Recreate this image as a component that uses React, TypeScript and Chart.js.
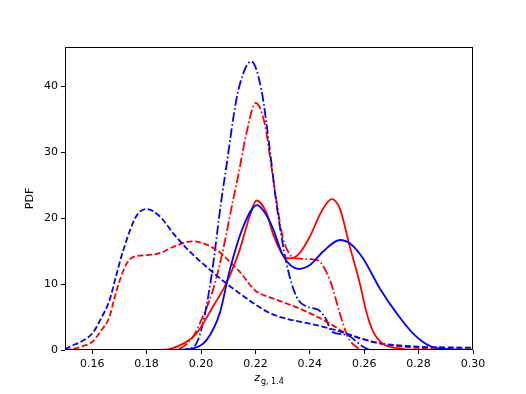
import React, { useEffect, useRef } from "react";
import { Chart, registerables } from "chart.js";
Chart.register(...registerables);

const xTickValues = [0.16, 0.18, 0.2, 0.22, 0.24, 0.26, 0.28, 0.3];
const yTickValues = [0, 10, 20, 30, 40];
const xLabelMain = "z";
const xLabelSub = "g, 1.4";
const yLabel = "PDF";

// blue solid
const blueSolidX = [0.150, 0.190, 0.197, 0.202, 0.2069, 0.2106, 0.2155, 0.2206, 0.2240, 0.2265, 0.2302, 0.2360, 0.2400, 0.2450, 0.2511, 0.2550, 0.2596, 0.2658, 0.2719, 0.2780, 0.2842, 0.2900, 0.300];
const blueSolidY = [0, 0, 0.25, 1.5, 5.6, 12.2, 18.7, 22.0, 20.5, 18.4, 14.3, 12.3, 12.9, 15.0, 16.7, 16.1, 13.9, 9.3, 5.6, 2.5, 0.6, 0.15, 0.05];

// red solid
const redSolidX = [0.150, 0.185, 0.1897, 0.1983, 0.2044, 0.2093, 0.2142, 0.2179, 0.2204, 0.2241, 0.2265, 0.2302, 0.2326, 0.2360, 0.2400, 0.2440, 0.2480, 0.2510, 0.2547, 0.2584, 0.2609, 0.2633, 0.2670, 0.2720, 0.2800, 0.300];
const redSolidY = [0, 0, 0.3, 2.5, 6.6, 10.1, 15.2, 20.3, 22.7, 20.8, 17.6, 14.4, 13.9, 14.6, 17.2, 20.8, 22.9, 21.5, 15.7, 10.1, 5.6, 2.8, 0.9, 0.3, 0, 0];

// blue dashed
const blueDashedX = [0.150, 0.1517, 0.156, 0.1602, 0.163, 0.1664, 0.1685, 0.1713, 0.1762, 0.1799, 0.1848, 0.190, 0.195, 0.2032, 0.2090, 0.2142, 0.2200, 0.2253, 0.2300, 0.2400, 0.2470, 0.2535, 0.2600, 0.2658, 0.2700, 0.2800, 0.2900, 0.300];
const blueDashedY = [0.1, 0.5, 1.3, 2.6, 4.6, 7.6, 10.8, 15.0, 20.3, 21.4, 20.3, 17.6, 15.3, 12.2, 10.2, 8.6, 6.9, 5.6, 4.9, 4.0, 3.3, 2.5, 1.6, 1.0, 0.8, 0.5, 0.4, 0.35];

// red dashed
const redDashedX = [0.150, 0.1517, 0.156, 0.1602, 0.163, 0.1664, 0.168, 0.170, 0.1725, 0.175, 0.1799, 0.1848, 0.190, 0.197, 0.2057, 0.2106, 0.2142, 0.220, 0.2253, 0.230, 0.240, 0.2474, 0.2535, 0.2600, 0.2658, 0.2700, 0.2800, 0.2900, 0.300];
const redDashedY = [0, 0.1, 0.5, 1.3, 2.8, 5.1, 7.6, 10.4, 13.0, 14.1, 14.4, 14.7, 15.7, 16.5, 15.2, 13.4, 11.9, 9.0, 8.0, 7.3, 5.6, 4.0, 2.5, 1.6, 1.0, 0.7, 0.3, 0.15, 0.1];

// blue dash-dot
const blueDashDotX = [0.150, 0.190, 0.1958, 0.1983, 0.2007, 0.2038, 0.2075, 0.2093, 0.2130, 0.2160, 0.2185, 0.2222, 0.2253, 0.2277, 0.2314, 0.2351, 0.2388, 0.2431, 0.2461, 0.2480, 0.2535, 0.2596, 0.2630, 0.300];
const blueDashDotY = [0, 0, 0.2, 1.0, 4.0, 11.1, 22.8, 27.8, 38.0, 42.5, 43.8, 39.5, 30.4, 22.3, 13.2, 8.1, 6.6, 6.1, 4.6, 2.8, 2.3, 0.5, 0, 0];

// red dash-dot
const redDashDotX = [0.150, 0.188, 0.1934, 0.197, 0.2007, 0.2044, 0.2081, 0.2118, 0.2136, 0.2167, 0.2201, 0.2234, 0.2259, 0.2277, 0.2300, 0.2325, 0.235, 0.240, 0.243, 0.2475, 0.251, 0.254, 0.257, 0.260, 0.300];
const redDashDotY = [0, 0, 0.5, 2.0, 5.1, 9.1, 15.2, 22.8, 26.3, 32.9, 37.5, 34.4, 27.8, 22.8, 17.2, 14.6, 13.9, 13.8, 13.6, 10.5, 5.6, 2.0, 0.5, 0, 0];

const toPoints = (xs: number[], ys: number[]) => xs.map((x, i) => ({ x, y: ys[i] }));

const BLUE = "#0000ff";
const RED = "#ff0000";
const DASH = [6, 2.6];
const DASHDOT = [9.5, 2.6, 1.6, 2.6];
const FONT = '"DejaVu Sans", sans-serif';

export default function App() {
  const ref = useRef<HTMLCanvasElement>(null);
  useEffect(() => {
    document.body.style.margin = "0";
    const canvas = ref.current;
    if (!canvas) return;

    const framePlugin = {
      id: "frame",
      afterDraw(c: any) {
        const { ctx, chartArea: a } = c;
        ctx.save();
        ctx.strokeStyle = "#000";
        ctx.lineWidth = 1;
        const l = Math.round(a.left) + 0.5;
        const r = Math.round(a.right) - 0.5;
        const t = Math.round(a.top) + 0.5;
        const b = Math.round(a.bottom) - 0.5;
        ctx.strokeRect(l, t, r - l, b - t);
        // x axis title with subscript
        const cx = (a.left + a.right) / 2;
        ctx.fillStyle = "#000";
        ctx.textBaseline = "alphabetic";
        ctx.textAlign = "left";
        ctx.font = "italic 11px " + FONT;
        const wz = ctx.measureText(xLabelMain).width;
        ctx.font = "8px " + FONT;
        const ws = ctx.measureText(xLabelSub).width;
        const x0 = cx - (wz + ws + 1) / 2;
        ctx.font = "italic 11px " + FONT;
        ctx.fillText(xLabelMain, x0, 380.5);
        ctx.font = "8px " + FONT;
        ctx.fillText(xLabelSub, x0 + wz + 1, 383.5);
        ctx.restore();
      },
    };

    const mk = (label: string, xs: number[], ys: number[], color: string, dash: number[]) => ({
      label,
      data: toPoints(xs, ys),
      borderColor: color,
      backgroundColor: color,
      borderWidth: 1.8,
      borderDash: dash,
      pointRadius: 0,
      fill: false,
      cubicInterpolationMode: "monotone" as const,
    });

    const chart = new Chart(canvas, {
      type: "line",
      data: {
        datasets: [
          mk("blue solid", blueSolidX, blueSolidY, BLUE, []),
          mk("red solid", redSolidX, redSolidY, RED, []),
          mk("blue dashed", blueDashedX, blueDashedY, BLUE, DASH),
          mk("red dashed", redDashedX, redDashedY, RED, DASH),
          mk("blue dash-dot", blueDashDotX, blueDashDotY, BLUE, DASHDOT),
          mk("red dash-dot", redDashDotX, redDashDotY, RED, DASHDOT),
        ],
      },
      options: {
        responsive: false,
        animation: false,
        devicePixelRatio: 1,
        layout: { padding: { top: 47, right: 53, bottom: 0, left: 0 } },
        plugins: { legend: { display: false }, tooltip: { enabled: false } },
        scales: {
          x: {
            type: "linear",
            min: 0.15,
            max: 0.3,
            afterBuildTicks: (s: any) => {
              s.ticks = xTickValues.map((v) => ({ value: v }));
            },
            afterFit: (s: any) => {
              s.height = 44;
            },
            border: { display: false },
            grid: { drawOnChartArea: false, drawTicks: true, tickLength: 4, color: "#000", lineWidth: 1 },
            ticks: {
              color: "#000",
              font: { family: FONT, size: 11 },
              padding: 4,
              maxRotation: 0,
              autoSkip: false,
              callback: (v: any) => Number(v).toFixed(2),
            },
          },
          y: {
            type: "linear",
            min: 0,
            max: 46.0,
            afterBuildTicks: (s: any) => {
              s.ticks = yTickValues.map((v) => ({ value: v }));
            },
            afterFit: (s: any) => {
              s.width = 65;
            },
            border: { display: false },
            grid: { drawOnChartArea: false, drawTicks: true, tickLength: 4, color: "#000", lineWidth: 1 },
            ticks: {
              color: "#000",
              font: { family: FONT, size: 11 },
              padding: 3,
              autoSkip: false,
              callback: (v: any) => String(v),
            },
            title: {
              display: true,
              text: yLabel,
              color: "#000",
              font: { family: FONT, size: 11 },
              padding: { top: 24, bottom: 0 },
            },
          },
        },
      },
      plugins: [framePlugin],
    });
    return () => chart.destroy();
  }, []);

  return (
    <div style={{ position: "absolute", left: 0, top: 0, width: 526, height: 394, background: "#fff" }}>
      <canvas ref={ref} width={526} height={394} style={{ width: 526, height: 394 }} />
    </div>
  );
}
